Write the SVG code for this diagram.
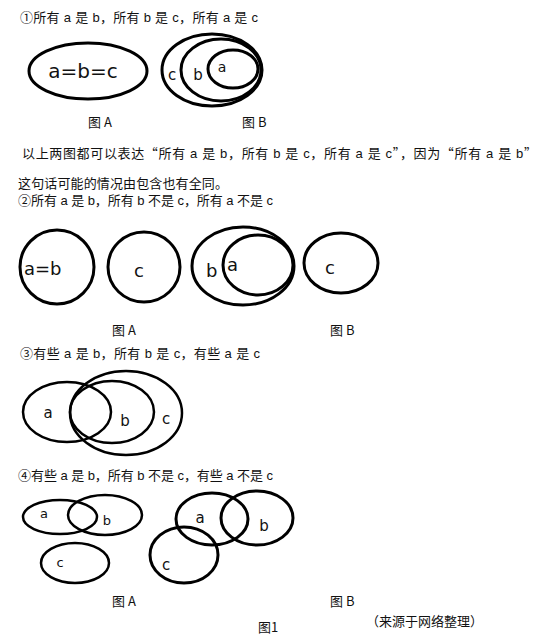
<svg xmlns="http://www.w3.org/2000/svg" width="549" height="637" viewBox="0 0 549 637">
<style>
.t{font-family:"Liberation Sans","Noto Sans CJK SC",sans-serif;font-size:13px;fill:#111}
.q{font-family:"Noto Sans CJK SC",sans-serif}
.cap{font-family:"Noto Sans CJK SC","Liberation Sans",sans-serif;font-size:13px;fill:#111}
.lb{font-family:"DejaVu Sans","Noto Sans",sans-serif;fill:#111}
.e{fill:none;stroke:#000;stroke-width:3}
.et{fill:none;stroke:#000;stroke-width:2.5}
</style>
<rect width="549" height="637" fill="#fff"/>

<g id="s1-title"><text class="t" x="20" y="22" textLength="238" lengthAdjust="spacing">①所有 a 是 b，所有 b 是 c，所有 a 是 c</text></g>
<g id="s1-A">
<ellipse class="e" cx="88" cy="71" rx="59" ry="28" stroke-width="3.5"/>
<text class="lb" x="83" y="78" font-size="20" text-anchor="middle">a=b=c</text>
</g>
<g id="s1-B">
<ellipse class="e" cx="212" cy="70" rx="50" ry="36"/>
<ellipse class="e" cx="221" cy="70" rx="40" ry="31"/>
<ellipse class="e" cx="233" cy="69" rx="25" ry="19"/>
<text class="lb" x="172" y="80" font-size="15" text-anchor="middle">c</text>
<text class="lb" x="198" y="80" font-size="15" text-anchor="middle">b</text>
<text class="lb" x="222" y="72" font-size="14" text-anchor="middle">a</text>
</g>
<g id="s1-caps">
<text class="cap" x="88" y="127">图 A</text>
<text class="cap" x="242" y="127">图 B</text>
</g>

<g id="note">
<text class="t" x="22" y="158" textLength="515" lengthAdjust="spacing">以上两图都可以表达<tspan class="q">“</tspan>所有 a 是 b，所有 b 是 c，所有 a 是 c<tspan class="q">”</tspan>，因为<tspan class="q">“</tspan>所有 a 是 b<tspan class="q">”</tspan></text>
<text class="t" x="18" y="188" textLength="210" lengthAdjust="spacing">这句话可能的情况由包含也有全同。</text>
</g>

<g id="s2-title"><text class="t" x="18" y="205" textLength="255" lengthAdjust="spacing">②所有 a 是 b，所有 b 不是 c，所有 a 不是 c</text></g>
<g id="s2-A">
<ellipse class="e" cx="57" cy="267" rx="37" ry="37"/>
<text class="lb" x="24" y="275" font-size="18">a=b</text>
<ellipse class="e" cx="144" cy="267" rx="36" ry="35"/>
<text class="lb" x="134" y="277" font-size="18">c</text>
</g>
<g id="s2-B">
<ellipse class="e" cx="243" cy="266" rx="51" ry="39"/>
<ellipse class="e" cx="258" cy="265" rx="35" ry="30"/>
<text class="lb" x="206" y="277" font-size="18">b</text>
<text class="lb" x="227" y="271" font-size="18">a</text>
<ellipse class="e" cx="341" cy="263" rx="37" ry="30"/>
<text class="lb" x="325" y="274" font-size="18">c</text>
</g>
<g id="s2-caps">
<text class="cap" x="112" y="335">图 A</text>
<text class="cap" x="330" y="335">图 B</text>
</g>

<g id="s3-title"><text class="t" x="20" y="358" textLength="240" lengthAdjust="spacing">③有些 a 是 b，所有 b 是 c，有些 a 是 c</text></g>
<g id="s3">
<ellipse class="et" cx="67" cy="412" rx="44" ry="30"/>
<ellipse class="et" cx="112" cy="412" rx="42" ry="31"/>
<ellipse class="et" cx="126" cy="413" rx="56" ry="42"/>
<text class="lb" x="48" y="418" font-size="15" text-anchor="middle">a</text>
<text class="lb" x="125" y="426" font-size="15" text-anchor="middle">b</text>
<text class="lb" x="166" y="424" font-size="15" text-anchor="middle">c</text>
</g>

<g id="s4-title"><text class="t" x="18" y="480" textLength="255" lengthAdjust="spacing">④有些 a 是 b，所有 b 不是 c，有些 a 不是 c</text></g>
<g id="s4-A">
<ellipse class="et" cx="60" cy="517" rx="37" ry="17"/>
<ellipse class="et" cx="105" cy="515" rx="37" ry="20"/>
<ellipse class="et" cx="75" cy="563" rx="34" ry="20"/>
<text class="lb" x="44" y="518" font-size="13" text-anchor="middle">a</text>
<text class="lb" x="107" y="525" font-size="13" text-anchor="middle">b</text>
<text class="lb" x="60" y="567" font-size="13" text-anchor="middle">c</text>
</g>
<g id="s4-B">
<ellipse class="e" cx="212" cy="519" rx="36" ry="26"/>
<ellipse class="e" cx="257" cy="518" rx="36" ry="27"/>
<ellipse class="e" cx="184" cy="555" rx="34" ry="28"/>
<text class="lb" x="200" y="523" font-size="15" text-anchor="middle">a</text>
<text class="lb" x="264" y="531" font-size="15" text-anchor="middle">b</text>
<text class="lb" x="166" y="570" font-size="15" text-anchor="middle">c</text>
</g>
<g id="s4-caps">
<text class="cap" x="112" y="606">图 A</text>
<text class="cap" x="330" y="606">图 B</text>
<text class="cap" x="258" y="632" font-size="14">图1</text>
<text class="cap" x="366" y="626" font-size="14">（来源于网络整理）</text>
</g>
</svg>
